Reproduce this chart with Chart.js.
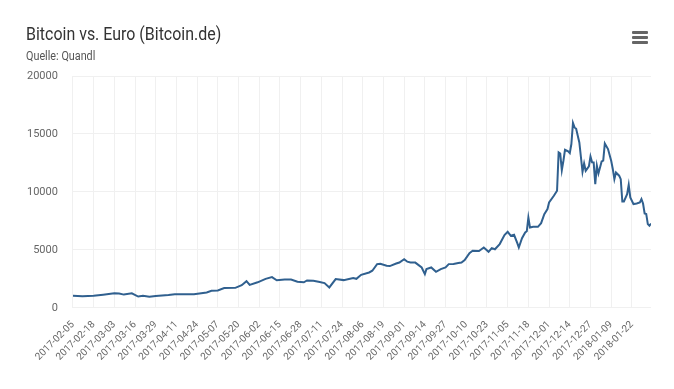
<!DOCTYPE html>
<html>
<head>
<meta charset="utf-8">
<script src="https://cdn.jsdelivr.net/npm/chart.js@4.4.1/dist/chart.umd.min.js"></script>
<style>
    html, body { margin: 0; padding: 0; background: #fff; }
    #wrap { position: relative; width: 674px; height: 389px; font-family: Roboto, sans-serif; }
    #title { position: absolute; left: 26px; top: 22px; font-size: 19px; color: #333; white-space: nowrap; transform: scaleX(0.84); transform-origin: 0 0; }
    #subtitle { position: absolute; left: 26px; top: 49px; font-size: 12px; color: #555; white-space: nowrap; transform: scaleX(0.9); transform-origin: 0 0; }
    #menu { position: absolute; left: 632px; top: 31px; width: 16px; }
    #menu span { display: block; height: 3px; margin-bottom: 2px; background: #666; border-radius: 1px; }
    canvas { position: absolute; left: 0; top: 0; }
</style>
</head>
<body>
<div id="wrap">
    <canvas id="btc-chart" width="674" height="389"></canvas>
    <div id="title">Bitcoin vs. Euro (Bitcoin.de)</div>
    <div id="subtitle">Quelle: Quandl</div>
    <div id="menu"><span></span><span></span><span></span></div>
</div>
<script>
// Kurs BTC/EUR
const dates = [
    '2017-02-05', '2017-02-11', '2017-02-18', '2017-02-24', '2017-03-03', '2017-03-06', '2017-03-09', '2017-03-14',
    '2017-03-18', '2017-03-21', '2017-03-25', '2017-03-29', '2017-04-06', '2017-04-10', '2017-04-22', '2017-04-30',
    '2017-05-03', '2017-05-07', '2017-05-11', '2017-05-18', '2017-05-22', '2017-05-25', '2017-05-27', '2017-06-01',
    '2017-06-06', '2017-06-10', '2017-06-13', '2017-06-18', '2017-06-22', '2017-06-26', '2017-06-30', '2017-07-02',
    '2017-07-06', '2017-07-10', '2017-07-13', '2017-07-16', '2017-07-20', '2017-07-25', '2017-07-31', '2017-08-02',
    '2017-08-05', '2017-08-10', '2017-08-12', '2017-08-15', '2017-08-17', '2017-08-21', '2017-08-23', '2017-08-27',
    '2017-08-29', '2017-09-01', '2017-09-03', '2017-09-05', '2017-09-08', '2017-09-12', '2017-09-14', '2017-09-15',
    '2017-09-18', '2017-09-21', '2017-09-24', '2017-09-27', '2017-09-29', '2017-10-02', '2017-10-05', '2017-10-07',
    '2017-10-09', '2017-10-12', '2017-10-14', '2017-10-18', '2017-10-21', '2017-10-24', '2017-10-26', '2017-10-28',
    '2017-10-31', '2017-11-03', '2017-11-05', '2017-11-07', '2017-11-09', '2017-11-11', '2017-11-12', '2017-11-14',
    '2017-11-16', '2017-11-17', '2017-11-18', '2017-11-19', '2017-11-21', '2017-11-24', '2017-11-26', '2017-11-28',
    '2017-11-30', '2017-12-01', '2017-12-04', '2017-12-06', '2017-12-07', '2017-12-08', '2017-12-09', '2017-12-10',
    '2017-12-11', '2017-12-13', '2017-12-14', '2017-12-15', '2017-12-16', '2017-12-17', '2017-12-18', '2017-12-20',
    '2017-12-22', '2017-12-23', '2017-12-24', '2017-12-26', '2017-12-27', '2017-12-28', '2017-12-29', '2017-12-30',
    '2017-12-31', '2018-01-01', '2018-01-03', '2018-01-04', '2018-01-05', '2018-01-07', '2018-01-09', '2018-01-10',
    '2018-01-11', '2018-01-12', '2018-01-14', '2018-01-15', '2018-01-16', '2018-01-17', '2018-01-19', '2018-01-20',
    '2018-01-21', '2018-01-23', '2018-01-25', '2018-01-27', '2018-01-28', '2018-01-29', '2018-01-30', '2018-01-31',
    '2018-02-01', '2018-02-02', '2018-02-03'
];
const kurs = [
    1050, 1000, 1040, 1130, 1250, 1240, 1140, 1250,
    970, 1040, 950, 1020, 1110, 1170, 1180, 1330,
    1470, 1500, 1700, 1720, 1950, 2300, 1980, 2200,
    2500, 2650, 2380, 2450, 2440, 2250, 2200, 2360,
    2330, 2230, 2130, 1760, 2480, 2390, 2560, 2500,
    2850, 3050, 3200, 3770, 3790, 3625, 3600, 3825,
    3910, 4200, 3980, 3910, 3900, 3480, 2910, 3340,
    3480, 3105, 3340, 3480, 3770, 3790, 3860, 3910,
    4115, 4720, 4920, 4900, 5200, 4830, 5150, 5050,
    5500, 6275, 6560, 6215, 6300, 5600, 5200, 6000,
    6500, 6600, 7790, 6930, 7000, 6990, 7300, 8085,
    8520, 9090, 9665, 10100, 13400, 13300, 11880, 12690,
    13635, 13500, 13350, 14130, 15940, 15560, 15450, 14265,
    11740, 12450, 11820, 12200, 13060, 12550, 12540, 10675,
    12255, 11590, 12625, 12700, 14180, 13700, 12690, 11980,
    11105, 11680, 11400, 11100, 9175, 9175, 9810, 10615,
    9520, 8950, 9000, 9090, 9380, 9000, 8140, 8100,
    7225, 7080, 7275
];
const tickLabels = [
    '2017-02-05', '2017-02-18', '2017-03-03', '2017-03-16', '2017-03-29', '2017-04-11', '2017-04-24',
    '2017-05-07', '2017-05-20', '2017-06-02', '2017-06-15', '2017-06-28', '2017-07-11', '2017-07-24',
    '2017-08-06', '2017-08-19', '2017-09-01', '2017-09-14', '2017-09-27', '2017-10-10', '2017-10-23',
    '2017-11-05', '2017-11-18', '2017-12-01', '2017-12-14', '2017-12-27', '2018-01-09', '2018-01-22'
];
const yTicks = [0, 5000, 10000, 15000, 20000];
const startDate = dates[0];
const endDate = '2018-02-03';

function dayOffset(d) {
    return (Date.parse(d + 'T00:00:00Z') - Date.parse(startDate + 'T00:00:00Z')) / 86400000;
}

const font = "Roboto, sans-serif";
const gridColor = '#f0f0f0';

new Chart(document.getElementById('btc-chart'), {
    type: 'line',
    data: {
        datasets: [{
            label: 'BTC/EUR',
            data: dates.map((d, i) => ({ x: dayOffset(d), y: kurs[i] })),
            borderColor: '#30608f',
            borderWidth: 2,
            pointRadius: 0,
            tension: 0,
            fill: false
        }]
    },
    options: {
        responsive: false,
        animation: false,
        layout: { padding: { left: 12, right: 23, top: 76, bottom: 15 } },
        scales: {
            x: {
                type: 'linear',
                min: 0,
                max: dayOffset(endDate),
                afterBuildTicks: scale => {
                    scale.ticks = tickLabels.map(t => ({ value: dayOffset(t) }));
                },
                ticks: {
                    autoSkip: false,
                    minRotation: 45,
                    maxRotation: 45,
                    padding: 11,
                    color: '#666',
                    font: { family: font, size: 10 },
                    callback: function(value) {
                        const t = tickLabels.find(l => dayOffset(l) === value);
                        return t || null;
                    }
                },
                grid: { color: gridColor, drawTicks: false },
                border: { display: false }
            },
            y: {
                min: 0,
                max: 20000,
                afterBuildTicks: scale => {
                    scale.ticks = yTicks.map(v => ({ value: v }));
                },
                ticks: {
                    padding: 15,
                    color: '#666',
                    font: { family: font, size: 11 },
                    callback: value => String(value)
                },
                grid: { color: gridColor, drawTicks: false },
                border: { display: false }
            }
        },
        plugins: {
            legend: { display: false },
            tooltip: { enabled: false }
        }
    }
});
</script>
</body>
</html>
